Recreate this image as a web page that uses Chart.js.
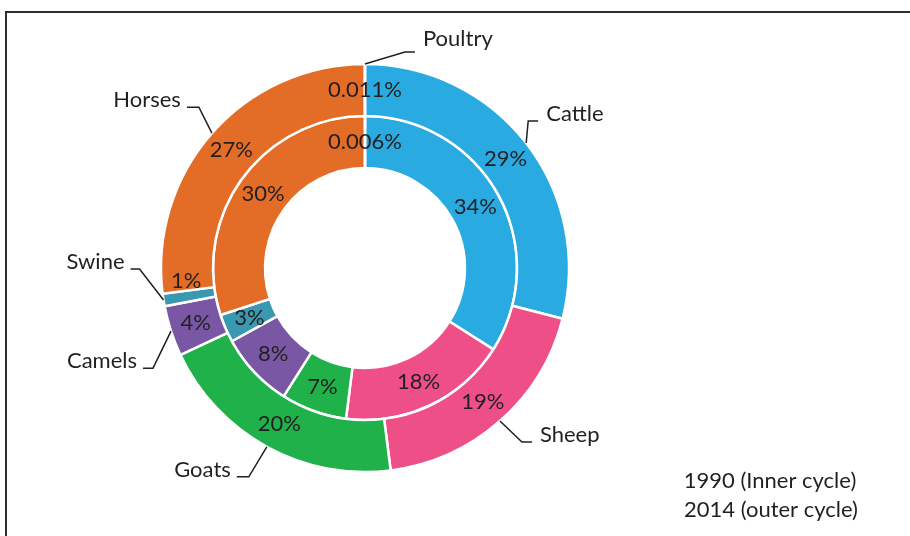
<!DOCTYPE html>
<html>
<head>
<meta charset="utf-8">
<title>Livestock composition 1990 / 2014</title>
<script src="https://cdn.jsdelivr.net/npm/chart.js@4.4.1/dist/chart.umd.min.js"></script>
<style>
    html, body { margin: 0; padding: 0; background: #fff; }
    #wrap { position: relative; width: 910px; height: 536px; }
</style>
</head>
<body>
<div id="wrap"><canvas id="livestockChart" width="910" height="536"></canvas></div>
<script>
// Shares of livestock units, in percent
const categories = ['Cattle', 'Sheep', 'Goats', 'Camels', 'Swine', 'Horses', 'Poultry'];
const share2014 = [29, 19, 20, 4, 1, 27, 0.011];   // outer ring
const share1990 = [34, 18, 7, 8, 3, 30, 0.006];    // inner ring
const ringNotes = ['1990 (Inner cycle)', '2014 (outer cycle)'];

const colores = ['#29abe2', '#ef4f87', '#21b14b', '#7a57a5', '#3a99b1', '#e36c26', '#f2b134'];
const TEXT = '#231f20';
const FONT = '22px Lato, "Open Sans", sans-serif';

// Leader lines: elbow offset from the ring edge, then a short horizontal run
const callouts = {
    Cattle:  { elbow: [2, -22],   run: 10 },
    Sheep:   { elbow: [22, 21],   run: 10 },
    Goats:   { elbow: [-18, 30],  run: -12 },
    Camels:  { elbow: [-18, 37],  run: -10 },
    Swine:   { elbow: [-24, -31], run: -9 },
    Horses:  { elbow: [-13, -26], run: -12 },
    Poultry: { elbow: [40, -12],  run: 10, lift: 6 }
};

// the 1% swine label sits just above its thin slice
const nudges = { 'Swine-0': [-3, -15] };

const etiquetas = {
    id: 'etiquetas',
    beforeDraw(chart) {
        const ctx = chart.ctx;
        ctx.save();
        ctx.fillStyle = '#fff';
        ctx.fillRect(0, 0, chart.width, chart.height);
        // frame: top and left edges only
        ctx.strokeStyle = '#2e2e2e';
        ctx.lineWidth = 2;
        ctx.beginPath();
        ctx.moveTo(6, chart.height);
        ctx.lineTo(6, 12);
        ctx.lineTo(chart.width, 12);
        ctx.stroke();
        ctx.restore();
    },
    afterDatasetsDraw(chart) {
        const ctx = chart.ctx;
        ctx.save();
        ctx.font = FONT;
        ctx.fillStyle = TEXT;

        // percentages inside each ring
        ctx.textAlign = 'center';
        ctx.textBaseline = 'middle';
        chart.data.datasets.forEach((ds, di) => {
            chart.getDatasetMeta(di).data.forEach((arc, i) => {
                const p = arc.getProps(['x', 'y', 'startAngle', 'endAngle', 'innerRadius', 'outerRadius'], true);
                const mid = (p.startAngle + p.endAngle) / 2;
                const r = (p.innerRadius + p.outerRadius) / 2;
                const n = nudges[categories[i] + '-' + di] || [0, 0];
                ctx.fillText(ds.data[i] + '%', p.x + Math.cos(mid) * r + n[0], p.y + Math.sin(mid) * r + n[1]);
            });
        });

        // category names with leader lines off the outer ring
        ctx.strokeStyle = TEXT;
        ctx.lineWidth = 1.5;
        ctx.textBaseline = 'alphabetic';
        chart.getDatasetMeta(0).data.forEach((arc, i) => {
            const p = arc.getProps(['x', 'y', 'startAngle', 'endAngle', 'outerRadius'], true);
            const mid = (p.startAngle + p.endAngle) / 2;
            const ax = p.x + Math.cos(mid) * p.outerRadius;
            const ay = p.y + Math.sin(mid) * p.outerRadius;
            const c = callouts[categories[i]];
            const ex = ax + c.elbow[0];
            const ey = ay + c.elbow[1];
            const fx = ex + c.run;
            ctx.beginPath();
            ctx.moveTo(ax, ay);
            ctx.lineTo(ex, ey);
            ctx.lineTo(fx, ey);
            ctx.stroke();
            const ty = ey - (c.lift || 0);
            if (c.run > 0) {
                ctx.textAlign = 'left';
                ctx.fillText(categories[i], fx + 8, ty);
            } else {
                ctx.textAlign = 'right';
                ctx.fillText(categories[i], fx - 6, ty);
            }
        });

        // ring notes, bottom right
        ctx.textAlign = 'center';
        ctx.fillText(ringNotes[0], 770, 488);
        ctx.fillText(ringNotes[1], 771, 517);
        ctx.restore();
    }
};

const ctx = document.getElementById('livestockChart').getContext('2d');
new Chart(ctx, {
    type: 'doughnut',
    data: {
        labels: categories,
        datasets: [
            { label: '2014', data: share2014, backgroundColor: colores, borderColor: '#fff', borderWidth: 2.5 },
            { label: '1990', data: share1990, backgroundColor: colores, borderColor: '#fff', borderWidth: 2.5 }
        ]
    },
    options: {
        responsive: false,
        animation: false,
        events: [],
        radius: 204,
        cutout: '49%',
        layout: { padding: { left: 155, right: 335, top: 58, bottom: 58 } },
        plugins: {
            legend: { display: false },
            tooltip: { enabled: false }
        }
    },
    plugins: [etiquetas]
});
</script>
</body>
</html>
